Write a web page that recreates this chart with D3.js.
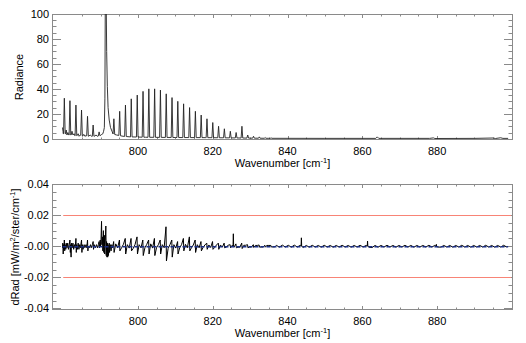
<!DOCTYPE html>
<html><head><meta charset="utf-8">
<script src="https://cdn.jsdelivr.net/npm/d3@7"></script>
<style>
body{margin:0;background:#fff}
text{font-family:"Liberation Sans",Arial,Helvetica,sans-serif;font-size:11px;fill:#000}
</style></head>
<body><svg id="c" width="526" height="343"></svg>
<script>
// ---------------- data ----------------
const xMajorTicks = [800, 820, 840, 860, 880];
const xMinorTicks = [785,790,795,805,810,815,825,830,835,845,850,855,865,870,875,885,890,895];
const radTicks = [0, 20, 40, 60, 80, 100];
const radMinorTicks = [5,10,15,25,30,35,45,50,55,65,70,75,85,90,95];
const dradTicks = [0.04, 0.02, 0, -0.02, -0.04];
const dradTickLabels = ["0.04", "0.02", "-0.00", "-0.02", "-0.04"];
const dradMinorTicks = [0.035,0.03,0.025,0.015,0.01,0.005,-0.005,-0.01,-0.015,-0.025,-0.03,-0.035];
const limitLines = [0.02, -0.02];

// radiance: background (between lines)
const radBase = [[779.8,9],[779.95,6],[780.0,4],[780.6,4],[780.8,7],[781.0,3],[781.25,5],[781.5,3],
 [782.1,3],[782.35,6],[782.6,3],[782.9,4],[783.1,2.5],[783.7,2.5],[784.0,4],[784.25,2],[784.55,3],
 [785.2,2],[785.5,3.5],[785.8,2],[786.1,2.5],[786.8,2],[787.2,3],[787.6,2],[788.3,2],[788.8,3],
 [789.1,2],[789.9,2.5],[790.3,3.5],[790.6,4],[790.8,6],
 [794.3,3],[796,2],[798,1.5],[802,1.2],[810,1],[818,0.9],[825,0.7],[830,0.5],[835,0.35],
 [850,0.3],[863.6,0.3],[864,1.5],[864.4,0.3],[878,0.3],[879,0.7],[879.4,0.2],[890,0.3],
 [895,0.6],[895.6,0.2],[897,0.8],[897.6,0.3],[899,0.3]];
// CO2 Q-branch
const qBranch = [[791.0,9],[791.15,32],[791.25,108],[791.5,108],[791.62,70],[791.8,42],
 [792.0,25],[792.3,15],[792.65,9],[793.05,6]];
// P-branch lines
const pLineWn = [780.3, 781.8, 783.4, 784.9, 786.5, 788.0, 789.6];
const pLineHt = [32.5, 30.5, 27, 23, 18, 11, 5.5];
// R-branch lines
const rLineWn = [793.55,795.1,796.65,798.2,799.8,801.35,802.9,804.45,806.0,807.55,809.1,810.65,812.2,
 813.8,815.35,816.9,818.45,820.0,821.55,823.1,824.7,826.25,827.8,829.35,830.9,832.45,834.0,835.6];
const rLineHt = [16,22,27,32,35,38,40,40,39,36,33,30,28,25,22,19,16,13,10,8,6,5,10,3,2,1.5,1,0.7];

// residual (dRad)
const resEarly = [[779.8,-0.001],[779.9,0.002],[780.0,-0.005],[780.1,0.001],[780.2,-0.002],[780.3,0.004],
 [780.4,-0.003],[780.5,0.001],[780.7,-0.002],[780.8,0.002],[781.0,-0.001],[781.2,0.002],[781.4,-0.002],
 [781.6,0.001],[781.8,0.004],[781.9,-0.004],[782.0,0.001],[782.1,-0.007],[782.2,0.002],[782.4,-0.001],
 [782.6,0.002],[782.8,-0.002],[783.0,0.001],[783.2,-0.001],[783.4,0.005],[783.5,-0.004],[783.6,0.001],
 [783.8,-0.002],[784.0,0.002],[784.2,-0.002],[784.4,0.001],[784.6,-0.001],[784.9,0.004],[785.0,-0.004],
 [785.1,0.001],[785.3,-0.002],[785.6,0.001],[785.8,-0.001],[786.1,0.001],[786.3,-0.001],[786.5,0.004],
 [786.6,-0.003],[786.7,0.0],[787.0,-0.001],[787.3,0.001],[787.5,-0.001],[787.8,0.001],[788.0,0.003],
 [788.1,-0.002],[788.3,0.001],[788.6,-0.001],[788.9,0.001],[789.2,-0.001],[789.4,0.001],[789.6,0.003],
 [789.7,-0.001],[789.9,0.004],[790.0,0.0],[790.1,0.003],[790.25,0.016],[790.35,0.001],[790.5,0.006],
 [790.6,-0.003],[790.75,0.010],[790.85,-0.004],[791.0,0.007],[791.1,-0.005],[791.25,0.004],[791.4,0.013],
 [791.5,-0.006],[791.6,0.003],[791.7,-0.007],[791.8,0.002],[791.9,-0.007],[792.0,0.001],[792.1,-0.006],
 [792.3,0.002],[792.4,-0.004],[792.6,0.001],[792.8,-0.003],[793.0,0.001],[793.2,-0.001]];
const rResUp = [0.003,0.004,0.005,0.005,0.006,0.004,0.004,0.005,0.004,0.0125,0.004,0.003,0.005,0.006,
 0.004,0.003,0.002,0.003,0.002,0.002,0.001,0.0015,0.002,0.001,0.001,0.0008,0.0006,0.0005];
const rResDown = [-0.004,-0.003,-0.005,-0.003,-0.005,-0.006,-0.005,-0.006,-0.005,-0.0095,-0.007,-0.005,
 -0.003,-0.003,-0.004,-0.003,-0.002,-0.002,-0.002,-0.001,-0.001,-0.001,-0.0015,-0.001,-0.0008,-0.0006,-0.0005,-0.0005];
const rNoiseA = [0.0015,-0.001,0.001,-0.0015,0.001,-0.001,0.0015,-0.001,0.001,-0.0015,0.001,-0.001,0.0012,
 -0.001,0.001,-0.0008,0.0008,-0.0008,0.0008,-0.0006,0.0006,-0.0006,0.0006,-0.0005,0.0005,-0.0005,0.0005,-0.0004];
const rNoiseB = [-0.001,0.0012,-0.0012,0.001,-0.001,0.0012,-0.0012,0.001,-0.001,0.001,-0.0012,0.001,-0.001,
 0.0008,-0.001,0.0008,-0.0008,0.0008,-0.0006,0.0006,-0.0006,-0.0006,0.0006,-0.0005,0.0005,-0.0005,0.0005,-0.0004];
// isolated narrow spikes in the residual
const resSpikes = [[825.5,0.008],[843.7,0.0054],[861.4,0.0033],[879.8,0.0012]];
const tailStart = 837.0, tailStep = 0.8;
const tailRes = [0.0006,-0.0006,0.0007,-0.0005,0.0006,-0.0006,0.0007,-0.0005,0.0006,-0.0008,
 0.0005,-0.0006,0.0006,-0.0005,0.0005,-0.0006,0.0006,-0.0005,0.0005,-0.0006,
 0.0005,-0.0005,0.0006,-0.0005,0.0005,-0.0006,0.0005,-0.0005,0.0006,-0.0005,
 0.0005,-0.0006,-0.0009,0.0005,-0.0006,0.0005,-0.0005,0.0006,-0.0005,0.0005,
 -0.0006,0.0005,-0.0005,0.0006,-0.0005,0.0005,-0.0006,0.0005,-0.0005,0.0005,
 -0.0005,0.0006,-0.0005,0.0005,-0.0005,-0.0006,0.0005,-0.0005,0.0005,-0.0006,
 0.0005,-0.0005,0.0006,-0.0005,0.0005,-0.0006,0.0005,-0.0005,0.0005,-0.0005,
 0.0006,-0.0005,0.0005,-0.0006,0.0005,-0.0005,0.0006,-0.0005];
const meanRes = [[779.8,-0.0003],[899.0,-0.0003]];

// ---------------- layout ----------------
const L = 52, R = 513;
const panels = [{top:14, bottom:140}, {top:184, bottom:310}];
const svg = d3.select("#c");
const x = d3.scaleLinear().domain([777, 900.3]).range([L, R]);
const yTop = d3.scaleLinear().domain([-1, 100]).range([panels[0].bottom, panels[0].top]);
const yBot = d3.scaleLinear().domain([-0.041, 0.04]).range([panels[1].bottom, panels[1].top]);

const frameCol = "#8a8a8a";
const defs = svg.append("defs");
panels.forEach((p,i)=>{
  defs.append("clipPath").attr("id","clip"+i).append("rect")
    .attr("x",L).attr("y",p.top).attr("width",R-L).attr("height",p.bottom-p.top);
});

function drawAxes(p, y, major, majorLabels, minor){
  const g = svg.append("g");
  g.append("rect").attr("x",L+0.5).attr("y",p.top+0.5).attr("width",R-L-1).attr("height",p.bottom-p.top-1)
    .attr("fill","none").attr("stroke",frameCol).attr("stroke-width",1);
  const ys = (v)=>Math.round(y(v))+0.5;
  [[major,9],[minor,4.5]].forEach(([arr,len])=>{
    g.selectAll(null).data(arr).enter().append("line")
      .attr("x1",L).attr("x2",L+len).attr("y1",ys).attr("y2",ys).attr("stroke",frameCol);
    g.selectAll(null).data(arr).enter().append("line")
      .attr("x1",R-len).attr("x2",R).attr("y1",ys).attr("y2",ys).attr("stroke",frameCol);
  });
  const xs = (v)=>Math.round(x(v))+0.5;
  [[xMajorTicks,4],[xMinorTicks,2.5]].forEach(([arr,len])=>{
    g.selectAll(null).data(arr).enter().append("line")
      .attr("x1",xs).attr("x2",xs).attr("y1",p.bottom).attr("y2",p.bottom-len).attr("stroke",frameCol);
    g.selectAll(null).data(arr).enter().append("line")
      .attr("x1",xs).attr("x2",xs).attr("y1",p.top).attr("y2",p.top+len).attr("stroke",frameCol);
  });
  g.selectAll(null).data(major).enter().append("text")
    .attr("x",L-3).attr("y",d=>y(d)+4).attr("text-anchor","end").text((d,i)=>majorLabels[i]);
  g.selectAll(null).data(xMajorTicks).enter().append("text")
    .attr("x",d=>x(d)).attr("y",p.bottom+15).attr("text-anchor","middle").text(d=>d);
  const t = g.append("text").attr("x",(L+R)/2).attr("y",p.bottom+27).attr("text-anchor","middle");
  t.append("tspan").text("Wavenumber [cm");
  t.append("tspan").attr("dy",-4).attr("font-size","7.5px").text("-1");
  t.append("tspan").attr("dy",4).text("]");
}

drawAxes(panels[0], yTop, radTicks, radTicks.map(String), radMinorTicks);
drawAxes(panels[1], yBot, dradTicks, dradTickLabels, dradMinorTicks);

// y titles
svg.append("text").attr("transform",`translate(23,${(panels[0].top+panels[0].bottom)/2}) rotate(-90)`)
  .attr("text-anchor","middle").text("Radiance");
const yt = svg.append("text").attr("transform",`translate(19,${(panels[1].top+panels[1].bottom)/2}) rotate(-90)`)
  .attr("text-anchor","middle");
yt.append("tspan").text("dRad [mW/m");
yt.append("tspan").attr("dy",-4).attr("font-size","7.5px").text("2");
yt.append("tspan").attr("dy",4).text("/ster/cm");
yt.append("tspan").attr("dy",-4).attr("font-size","7.5px").text("-1");
yt.append("tspan").attr("dy",4).text("]");

// ---------------- top spectrum ----------------
const baseInterp = (w)=>{
  const i = d3.bisector(d=>d[0]).left(radBase, w);
  if (i<=0) return radBase[0][1];
  if (i>=radBase.length) return radBase[radBase.length-1][1];
  const a = radBase[i-1], b = radBase[i];
  return a[1] + (b[1]-a[1])*(w-a[0])/(b[0]-a[0]);
};
const hw = 0.22;
let spec = radBase.concat(qBranch);
pLineWn.concat(rLineWn).forEach((w,i)=>{
  const h = i<pLineWn.length ? pLineHt[i] : rLineHt[i-pLineWn.length];
  spec.push([w-hw, baseInterp(w-hw)], [w, h], [w+hw, baseInterp(w+hw)]);
});
spec.sort((a,b)=>a[0]-b[0]);
const lineTop = d3.line().x(d=>x(d[0])).y(d=>yTop(d[1]));
svg.append("path").attr("clip-path","url(#clip0)").attr("d",lineTop(spec))
  .attr("fill","none").attr("stroke","#222").attr("stroke-width",0.9);

// ---------------- bottom residual ----------------
const lineBot = d3.line().x(d=>x(d[0])).y(d=>yBot(d[1]));
svg.selectAll(null).data(limitLines).enter().append("rect")
  .attr("x",x(780)).attr("width",x(899.8)-x(780)).attr("y",d=>Math.round(yBot(d))).attr("height",1)
  .attr("fill","rgb(248,132,118)");
let res = resEarly.slice();
rLineWn.forEach((c,i)=>{
  res.push([c-0.06, rResUp[i]], [c+0.06, rResDown[i]], [c+0.5, rNoiseA[i]], [c+1.0, rNoiseB[i]]);
});
tailRes.forEach((v,i)=>res.push([tailStart + i*tailStep, v]));
resSpikes.forEach(([w,v])=>res.push([w-0.08,0],[w,v],[w+0.08,0]));
res.sort((a,b)=>a[0]-b[0]);
svg.append("path").attr("clip-path","url(#clip1)").attr("d",lineBot(res))
  .attr("fill","none").attr("stroke","#000").attr("stroke-width",1);
svg.append("path").attr("clip-path","url(#clip1)").attr("d",lineBot(meanRes))
  .attr("fill","none").attr("stroke","#1b2f86").attr("stroke-width",1.6).attr("stroke-dasharray","4,2");
</script></body></html>
